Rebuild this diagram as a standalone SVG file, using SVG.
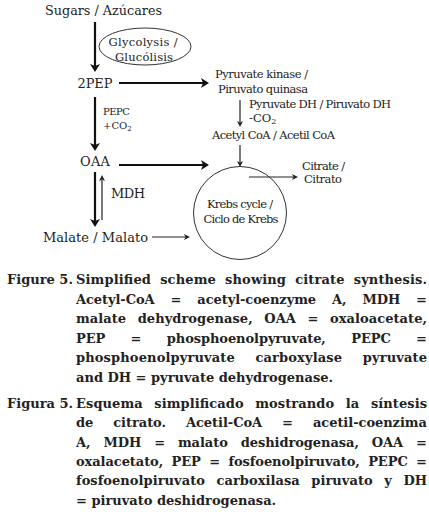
<svg xmlns="http://www.w3.org/2000/svg" width="429" height="516" viewBox="0 0 429 516">
<style>
.lbl{font-family:"DejaVu Serif","Liberation Serif",serif;fill:#222;}
.big{font-size:13px;}
.mid{font-size:11.5px;}
.sm{font-size:10px;}
.cap{font-family:"DejaVu Serif","Liberation Serif",serif;font-weight:bold;font-size:13px;fill:#222;}
.thick{stroke:#111;stroke-width:2.2;fill:none;marker-end:url(#ah);}
.thin{stroke:#222;stroke-width:1.2;fill:none;marker-end:url(#ahs);}
.shape{fill:none;stroke:#333;stroke-width:1;}
</style>
<defs>
<marker id="ah" viewBox="0 0 8 10" markerUnits="userSpaceOnUse" markerWidth="8" markerHeight="10" refX="2" refY="5" orient="auto">
<path d="M0,0 L8,5 L0,10 L2,5 z" fill="#111"/>
</marker>
<marker id="ahs" viewBox="0 0 6 6" markerUnits="userSpaceOnUse" markerWidth="6" markerHeight="6" refX="1.5" refY="3" orient="auto">
<path d="M0,0 L6,3 L0,6 L1.5,3 z" fill="#222"/>
</marker>
</defs>
<rect width="429" height="516" fill="#fff"/>

<g id="connectors">
<line class="thick" x1="95" y1="22" x2="95" y2="66"/>
<line class="thick" x1="119" y1="83" x2="203" y2="83"/>
<line class="thick" x1="95" y1="97" x2="95" y2="145"/>
<line class="thick" x1="119" y1="165" x2="203" y2="165"/>
<line class="thick" x1="95" y1="172" x2="95" y2="221"/>
<line class="thin" x1="102" y1="220" x2="102" y2="179.5"/>
<line class="thin" x1="240" y1="100" x2="240" y2="122.5"/>
<line class="thin" x1="240" y1="145" x2="240" y2="162.5"/>
<line class="thin" x1="152" y1="237" x2="185.5" y2="237"/>
<line class="thin" x1="249" y1="177" x2="293.5" y2="177"/>
</g>

<g id="sugars"><text class="lbl big" x="45" y="15" textLength="117" lengthAdjust="spacingAndGlyphs">Sugars / Azúcares</text></g>

<g id="glycolysis">
<ellipse class="shape" cx="145" cy="46.5" rx="46" ry="18.5"/>
<text class="lbl mid" x="143" y="46" text-anchor="middle" textLength="69">Glycolysis /</text>
<text class="lbl mid" x="144" y="60.5" text-anchor="middle" textLength="58">Glucólisis</text>
</g>

<g id="pep"><text class="lbl big" x="95" y="88" text-anchor="middle" textLength="35">2PEP</text></g>

<g id="pepc">
<text class="lbl sm" x="103" y="115" textLength="27">PEPC</text>
<text class="lbl sm" x="103" y="129">+CO<tspan font-size="7" dy="2">2</tspan></text>
</g>

<g id="oaa"><text class="lbl big" x="80" y="166" textLength="30">OAA</text></g>

<g id="mdh"><text class="lbl big" x="111" y="198" textLength="34">MDH</text></g>

<g id="malate"><text class="lbl big" x="43" y="241.5" textLength="105">Malate / Malato</text></g>

<g id="pyruvate-kinase">
<text class="lbl mid" x="215" y="78" textLength="93">Pyruvate kinase /</text>
<text class="lbl mid" x="218" y="93" textLength="90">Piruvato quinasa</text>
</g>

<g id="pyruvate-dh">
<text class="lbl mid" x="249" y="108" textLength="142">Pyruvate DH / Piruvato DH</text>
<text class="lbl mid" x="249" y="122">-CO<tspan font-size="8" dy="2">2</tspan></text>
</g>

<g id="acetyl"><text class="lbl mid" x="212" y="139" textLength="123">Acetyl CoA / Acetil CoA</text></g>

<g id="citrate">
<text class="lbl mid" x="302" y="170" textLength="43">Citrate /</text>
<text class="lbl mid" x="304" y="183" textLength="38">Citrato</text>
</g>

<g id="krebs">
<circle class="shape" cx="240" cy="213" r="46.5"/>
<text class="lbl mid" x="240" y="208" text-anchor="middle" textLength="66">Krebs cycle /</text>
<text class="lbl mid" x="241" y="223" text-anchor="middle" textLength="75">Ciclo de Krebs</text>
</g>

<g id="caption-en">
<text class="cap" x="7" y="284">Figure 5.</text>
<text class="cap" x="76" y="284" textLength="351" lengthAdjust="spacing" word-spacing="4.5">Simplified scheme showing citrate synthesis.</text>
<text class="cap" x="76" y="303.5" textLength="351" lengthAdjust="spacing" word-spacing="11.5">Acetyl-CoA = acetyl-coenzyme A, MDH =</text>
<text class="cap" x="76" y="323" textLength="351" lengthAdjust="spacing" word-spacing="7">malate dehydrogenase, OAA = oxaloacetate,</text>
<text class="cap" x="76" y="342.5" textLength="351" lengthAdjust="spacing" word-spacing="21">PEP = phosphoenolpyruvate, PEPC =</text>
<text class="cap" x="76" y="362" textLength="351" lengthAdjust="spacing" word-spacing="16">phosphoenolpyruvate carboxylase pyruvate</text>
<text class="cap" x="76" y="381.5">and DH = pyruvate dehydrogenase.</text>
</g>

<g id="caption-es">
<text class="cap" x="7" y="408">Figura 5.</text>
<text class="cap" x="76" y="408" textLength="351" lengthAdjust="spacing" word-spacing="7">Esquema simplificado mostrando la síntesis</text>
<text class="cap" x="76" y="427.3" textLength="351" lengthAdjust="spacing" word-spacing="15.5">de citrato. Acetil-CoA = acetil-coenzima</text>
<text class="cap" x="76" y="446.6" textLength="351" lengthAdjust="spacing" word-spacing="8.5">A, MDH = malato deshidrogenasa, OAA =</text>
<text class="cap" x="76" y="465.9" textLength="351" lengthAdjust="spacing" word-spacing="4">oxalacetato, PEP = fosfoenolpiruvato, PEPC =</text>
<text class="cap" x="76" y="485.2" textLength="351" lengthAdjust="spacing" word-spacing="7">fosfoenolpiruvato carboxilasa piruvato y DH</text>
<text class="cap" x="76" y="504.5">= piruvato deshidrogenasa.</text>
</g>
</svg>
